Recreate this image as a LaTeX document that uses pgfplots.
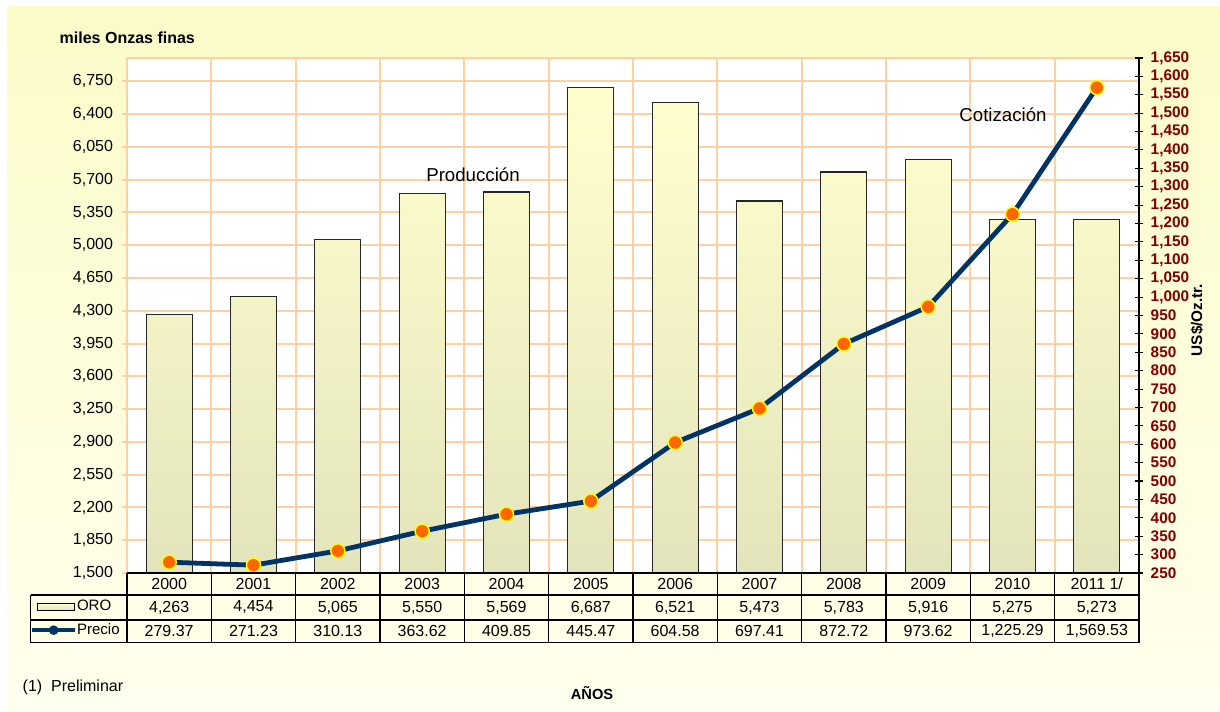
\documentclass[border=0pt]{standalone}
\usepackage{pgfplots}
\pgfplotsset{compat=1.18}
\usepackage{fontspec}
\setmainfont{Liberation Sans}
\definecolor{bgTop}{RGB}{251,251,200}
\definecolor{bgBot}{RGB}{255,255,238}
\definecolor{gridc}{RGB}{255,208,163}
\definecolor{navy}{RGB}{0,51,102}
\definecolor{mkfill}{RGB}{255,102,0}
\definecolor{mkdraw}{RGB}{255,255,0}
\definecolor{dred}{RGB}{128,0,0}
\definecolor{barTop}{RGB}{255,255,206}
\definecolor{barBot}{RGB}{228,228,188}
\definecolor{tablec}{RGB}{255,255,232}
\newcommand{\tf}{\fontsize{12}{14}\selectfont}
\pgfplotsset{precio legend/.style={legend image code/.code={\draw[##1, line width=3pt, mark size=3.2pt, mark options={line width=0.8pt}, mark repeat=2, mark phase=2] plot coordinates {(0pt,0pt) (16pt,0pt) (32pt,0pt)};}}}
\begin{document}
\begin{tikzpicture}[x=0.75pt,y=0.75pt]
\fill[white] (0,0) rectangle (1220,712);
\shade[top color=bgTop,bottom color=bgBot] (7,0) rectangle (1220,705);
\fill[tablec] (127,139) rectangle (1140,69.3);
\fill[tablec] (30.7,117) rectangle (127,69.3);
\begin{axis}[
  at={(95.25pt,104.25pt)}, anchor=south west, scale only axis,
  width=759pt, height=386.25pt,
  xmin=-0.5, xmax=11.5, ymin=1500, ymax=7000,
  xtick={-0.5,0.5,1.5,2.5,3.5,4.5,5.5,6.5,7.5,8.5,9.5,10.5,11.5}, xticklabels={},
  ytick={1500,1850,2200,2550,2900,3250,3600,3950,4300,4650,5000,5350,5700,6050,6400,6750},
  xmajorgrids, ymajorgrids,
  grid style={draw=gridc, line width=1.5pt},
  axis line style={draw=none},
  axis background/.style={fill=white},
  x tick style={draw=none},
  y tick style={draw=gridc, line width=1.5pt},
  tick align=outside, major tick length=3.5pt,
  ytick pos=left,
  scaled y ticks=false,
  /pgf/number format/1000 sep={,},
  /pgf/number format/assume math mode=true,
  yticklabel style={font=\tf, xshift=-3.5pt},
  clip mode=individual,
]
\addplot[ybar, bar width=0.545, draw=black!85, line width=0.9pt, top color=barTop, bottom color=barBot]
 coordinates {(0,4263) (1,4454) (2,5065) (3,5550) (4,5569) (5,6687) (6,6521) (7,5473) (8,5783) (9,5916) (10,5275) (11,5273)};
\draw[gridc, line width=1.5pt] (rel axis cs:0,1) -- (rel axis cs:1,1);
\draw[gridc, line width=1.5pt] (rel axis cs:0,0) -- (rel axis cs:0,1);
\end{axis}
\begin{axis}[
  at={(95.25pt,104.25pt)}, anchor=south west, scale only axis,
  width=759pt, height=386.25pt,
  xmin=-0.5, xmax=11.5, ymin=250, ymax=1650,
  axis x line=none, axis y line*=right,
  y axis line style={black, line width=1pt},
  ytick={250,300,...,1650},
  ytick style={black, line width=0.8pt},
  tick align=center, major tick length=6.5pt,
  scaled y ticks=false,
  /pgf/number format/1000 sep={,},
  /pgf/number format/assume math mode=true,
  yticklabel style={font=\bfseries\fontsize{11.5}{13}\selectfont, text=dred, xshift=2pt},
  clip=false,
  legend style={at={(rel axis cs:-0.0955,-0.0427)}, anchor=north west, draw=none, fill=none,
     inner sep=0pt, outer sep=0pt, row sep=0pt, column sep=0pt,
     nodes={inner sep=0pt, minimum height=17.6pt, font=\fontsize{11.3}{13}\selectfont}},
  legend cell align=left,
]
\addlegendimage{legend image code/.code={\draw[draw=black, line width=0.9pt, top color=barTop, bottom color=barBot] (3.75pt,-2.6pt) rectangle (31.5pt,2.6pt);}}
\addlegendentry{ORO}
\addplot[color=navy, line width=3.6pt, mark=*, mark size=5.3pt,
  mark options={fill=mkfill, draw=mkdraw, line width=1.1pt, solid}, precio legend]
 coordinates {(0,279.37) (1,271.23) (2,310.13) (3,363.62) (4,409.85) (5,445.47) (6,604.58) (7,697.41) (8,872.72) (9,973.62) (10,1225.29) (11,1569.53)};
\addlegendentry{Precio}
\end{axis}
% data table
\draw[black, line width=0.9pt] (127,139) -- (1140,139);
\draw[black, line width=0.9pt] (30.7,117) -- (1140,117);
\draw[black, line width=0.9pt] (30.7,92) -- (1140,92);
\draw[black, line width=0.9pt] (30.7,69.3) -- (1140,69.3);
\draw[black, line width=0.9pt] (30.7,117) -- (30.7,69.3);
\foreach \k in {0,...,12} {\draw[black, line width=0.9pt] ({127+84.333*\k},139) -- ({127+84.333*\k},69.3);}
\foreach \t [count=\k from 0] in {2000,2001,2002,2003,2004,2005,2006,2007,2008,2009,2010,2011 1/}
  {\node[font=\tf] at ({127+84.333*(\k+0.5)},128) {\t};}
\foreach \t [count=\k from 0] in {{4,263},{4,454},{5,065},{5,550},{5,569},{6,687},{6,521},{5,473},{5,783},{5,916},{5,275},{5,273}}
  {\node[font=\tf] at ({127+84.333*(\k+0.5)},104.5) {\t};}
\foreach \t [count=\k from 0] in {279.37,271.23,310.13,363.62,409.85,445.47,604.58,697.41,872.72,973.62,{1,225.29},{1,569.53}}
  {\node[font=\tf] at ({127+84.333*(\k+0.5)},81) {\t};}
% texts
\node[anchor=west, font=\bfseries\fontsize{12}{14}\selectfont] at (55,674) {miles Onzas finas};
\node[font=\fontsize{14}{16}\selectfont] at (473,537) {Producción};
\node[font=\fontsize{14}{16}\selectfont] at (1003,597) {Cotización};
\node[rotate=90, font=\bfseries\fontsize{11.5}{13}\selectfont] at (1197,392) {US\$/Oz.tr.};
\node[font=\bfseries\fontsize{11}{12}\selectfont] at (592,19) {AÑOS};
\node[anchor=west, font=\tf] at (18,25) {(1)\ \ Preliminar};
\end{tikzpicture}
\end{document}
